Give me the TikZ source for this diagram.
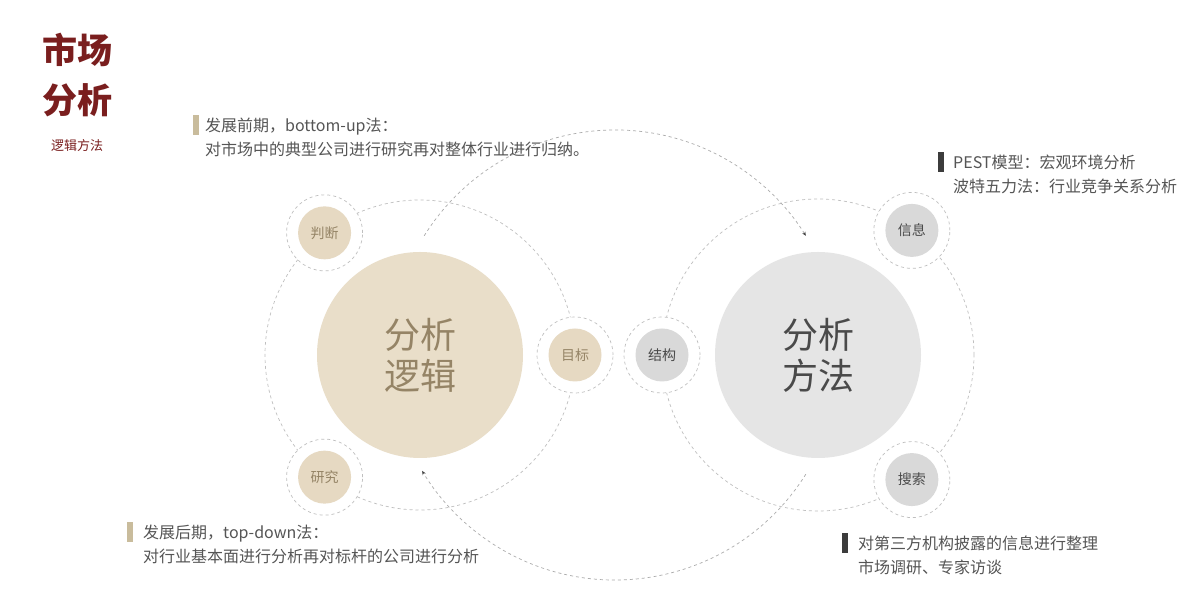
\documentclass[tikz,border=0pt]{standalone}
\usepackage{fontspec}
\setmainfont{Noto Sans CJK SC}
\usetikzlibrary{arrows.meta}

\definecolor{titlered}{HTML}{7A1E1E}
\definecolor{beige}{HTML}{E9DEC9}
\definecolor{beigesmall}{HTML}{E6D9C2}
\definecolor{beigetext}{HTML}{958466}
\definecolor{greybig}{HTML}{E5E5E5}
\definecolor{greysmall}{HTML}{D9D9D9}
\definecolor{greytext}{HTML}{4A4A4A}
\definecolor{dashgrey}{HTML}{BFBFBF}
\definecolor{notegrey}{HTML}{555555}
\definecolor{tanbar}{HTML}{C9BC9C}
\definecolor{darkbar}{HTML}{3C3C3C}

\tikzset{
  bigL/.style={circle, fill=beige, minimum size=206pt, inner sep=0pt, align=center,
    text=beigetext, font=\fontsize{36}{41}\selectfont},
  bigR/.style={bigL, fill=greybig, text=greytext},
  ring/.style={circle, draw=dashgrey, fill=white, line width=0.7pt,
    dash pattern=on 3pt off 3pt, minimum size=76pt, inner sep=0pt},
  smallL/.style={circle, fill=beigesmall, minimum size=53pt, inner sep=0pt,
    text=beigetext, font=\fontsize{14}{16}\selectfont},
  smallR/.style={smallL, fill=greysmall, text=greytext},
  orbit/.style={draw=dashgrey, line width=0.7pt, dash pattern=on 3pt off 3pt},
  flow/.style={draw=dashgrey!90!black, line width=0.7pt, dash pattern=on 3pt off 3pt,
    -{Stealth[length=4pt,width=3.5pt,color=darkgray]}},
  note/.style={anchor=west, align=left, inner sep=0pt, text=notegrey,
    font=\fontsize{16}{24}\selectfont},
}

\begin{document}
\begin{tikzpicture}[x=1pt,y=1pt]
    % page
    \fill[white] (0,0) rectangle (1200,615);
    \useasboundingbox (0,0) rectangle (1200,615);

    % title
    \node[align=center, text=titlered, font=\fontsize{35}{50}\selectfont\bfseries] (heading) at (77,540) {市场\\分析};
    \node[text=titlered, font=\fontsize{13}{15}\selectfont] (subheading) at (77,469) {逻辑方法};

    % two big circles
    \node[bigL] (logic) at (420,260) {分析\\逻辑};
    \node[bigR] (method) at (818,260) {分析\\方法};

    % dashed orbits
    \draw[orbit] (logic.center) circle[radius=155];
    \draw[orbit] (method.center) circle[radius=156];

    % big arcs between the circles
    \coordinate (mid) at (615,260);
    \draw[flow] ([shift={(148:225)}]mid) arc[start angle=148, end angle=32, radius=225];
    \draw[flow] ([shift={(-32:225)}]mid) arc[start angle=-32, end angle=-149, radius=225];

    % small circles
    \foreach \ang/\name/\txt in {128/judge/判断, 232/study/研究, 0/goal/目标}
    {
        \node[ring] (\name ring) at ([shift={(\ang:155)}]logic.center) {};
        \node[smallL] (\name) at (\name ring) {\txt};
    }
    \foreach \ang/\name/\txt in {180/structure/结构, 53/info/信息, -53/search/搜索}
    {
        \node[ring] (\name ring) at ([shift={(\ang:156)}]method.center) {};
        \node[smallR] (\name) at (\name ring) {\txt};
    }

    % notes
    \node[note] (early) at (205,478) {发展前期，bottom-up法：\\对市场中的典型公司进行研究再对整体行业进行归纳。};
    \fill[tanbar] ([shift={(-12,2)}]early.west) rectangle ++(6,20);
    \node[note] (pest) at (953,441) {PEST模型：宏观环境分析\\波特五力法：行业竞争关系分析};
    \fill[darkbar] ([shift={(-15,2)}]pest.west) rectangle ++(6,20);
    \node[note] (late) at (143,71) {发展后期，top-down法：\\对行业基本面进行分析再对标杆的公司进行分析};
    \fill[tanbar] ([shift={(-16,2)}]late.west) rectangle ++(6,20);
    \node[note] (third) at (858,60) {对第三方机构披露的信息进行整理\\市场调研、专家访谈};
    \fill[darkbar] ([shift={(-16,2)}]third.west) rectangle ++(6,20);
\end{tikzpicture}
\end{document}
